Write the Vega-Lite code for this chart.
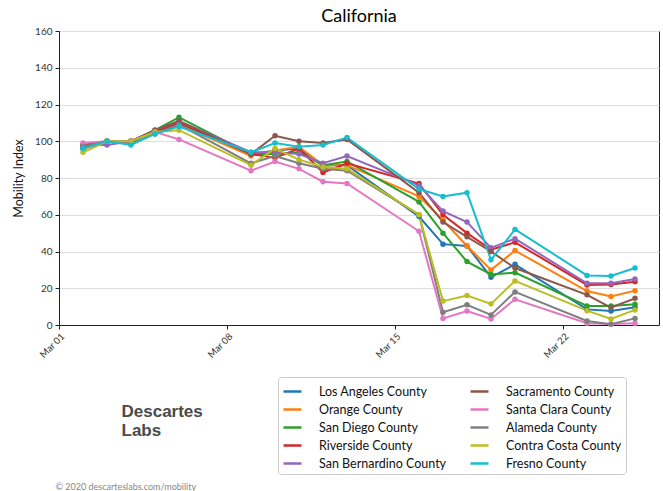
{
  "$schema": "https://vega.github.io/schema/vega-lite/v6.json",
  "width": 600,
  "height": 294,
  "autosize": {"type": "none"},
  "padding": {"left": 59, "top": 31, "right": 4, "bottom": 166},
  "title": {"text": "California", "fontSize": 18, "fontWeight": "normal", "font": "Lato", "color": "#000", "offset": 0},
  "config": {
    "view": {"stroke": "#222", "strokeWidth": 1},
    "axis": {"labelFont": "Lato", "titleFont": "Lato", "domainColor": "#222", "tickColor": "#222", "labelColor": "#333"}
  },
  "data": {"values": [
    {"date":"2020-03-02","county":"Los Angeles County","value":97},{"date":"2020-03-03","county":"Los Angeles County","value":100},{"date":"2020-03-04","county":"Los Angeles County","value":99},{"date":"2020-03-05","county":"Los Angeles County","value":105},{"date":"2020-03-06","county":"Los Angeles County","value":110},{"date":"2020-03-09","county":"Los Angeles County","value":93},{"date":"2020-03-10","county":"Los Angeles County","value":95},{"date":"2020-03-11","county":"Los Angeles County","value":96},{"date":"2020-03-12","county":"Los Angeles County","value":87},{"date":"2020-03-13","county":"Los Angeles County","value":87},{"date":"2020-03-16","county":"Los Angeles County","value":59},{"date":"2020-03-17","county":"Los Angeles County","value":44},{"date":"2020-03-18","county":"Los Angeles County","value":43},{"date":"2020-03-19","county":"Los Angeles County","value":26},{"date":"2020-03-20","county":"Los Angeles County","value":33},{"date":"2020-03-23","county":"Los Angeles County","value":8.5},{"date":"2020-03-24","county":"Los Angeles County","value":7.6},{"date":"2020-03-25","county":"Los Angeles County","value":9.6},
    {"date":"2020-03-02","county":"Orange County","value":96},{"date":"2020-03-03","county":"Orange County","value":100},{"date":"2020-03-04","county":"Orange County","value":100},{"date":"2020-03-05","county":"Orange County","value":105},{"date":"2020-03-06","county":"Orange County","value":109},{"date":"2020-03-09","county":"Orange County","value":92},{"date":"2020-03-10","county":"Orange County","value":95},{"date":"2020-03-11","county":"Orange County","value":97},{"date":"2020-03-12","county":"Orange County","value":87},{"date":"2020-03-13","county":"Orange County","value":87},{"date":"2020-03-16","county":"Orange County","value":70},{"date":"2020-03-17","county":"Orange County","value":57},{"date":"2020-03-18","county":"Orange County","value":43},{"date":"2020-03-19","county":"Orange County","value":30},{"date":"2020-03-20","county":"Orange County","value":40.5},{"date":"2020-03-23","county":"Orange County","value":18.5},{"date":"2020-03-24","county":"Orange County","value":15.5},{"date":"2020-03-25","county":"Orange County","value":18.7},
    {"date":"2020-03-02","county":"San Diego County","value":97},{"date":"2020-03-03","county":"San Diego County","value":100},{"date":"2020-03-04","county":"San Diego County","value":100},{"date":"2020-03-05","county":"San Diego County","value":106},{"date":"2020-03-06","county":"San Diego County","value":113},{"date":"2020-03-09","county":"San Diego County","value":93},{"date":"2020-03-10","county":"San Diego County","value":93},{"date":"2020-03-11","county":"San Diego County","value":94},{"date":"2020-03-12","county":"San Diego County","value":87},{"date":"2020-03-13","county":"San Diego County","value":89},{"date":"2020-03-16","county":"San Diego County","value":67},{"date":"2020-03-17","county":"San Diego County","value":50},{"date":"2020-03-18","county":"San Diego County","value":34.5},{"date":"2020-03-19","county":"San Diego County","value":27.5},{"date":"2020-03-20","county":"San Diego County","value":28.5},{"date":"2020-03-23","county":"San Diego County","value":10.4},{"date":"2020-03-24","county":"San Diego County","value":10.4},{"date":"2020-03-25","county":"San Diego County","value":11.3},
    {"date":"2020-03-02","county":"Riverside County","value":96},{"date":"2020-03-03","county":"Riverside County","value":100},{"date":"2020-03-04","county":"Riverside County","value":100},{"date":"2020-03-05","county":"Riverside County","value":105},{"date":"2020-03-06","county":"Riverside County","value":110},{"date":"2020-03-09","county":"Riverside County","value":93},{"date":"2020-03-10","county":"Riverside County","value":91},{"date":"2020-03-11","county":"Riverside County","value":96},{"date":"2020-03-12","county":"Riverside County","value":83},{"date":"2020-03-13","county":"Riverside County","value":88},{"date":"2020-03-16","county":"Riverside County","value":77},{"date":"2020-03-17","county":"Riverside County","value":60},{"date":"2020-03-18","county":"Riverside County","value":50},{"date":"2020-03-19","county":"Riverside County","value":41},{"date":"2020-03-20","county":"Riverside County","value":45},{"date":"2020-03-23","county":"Riverside County","value":21.8},{"date":"2020-03-24","county":"Riverside County","value":22},{"date":"2020-03-25","county":"Riverside County","value":23.6},
    {"date":"2020-03-02","county":"San Bernardino County","value":98},{"date":"2020-03-03","county":"San Bernardino County","value":98},{"date":"2020-03-04","county":"San Bernardino County","value":100},{"date":"2020-03-05","county":"San Bernardino County","value":106},{"date":"2020-03-06","county":"San Bernardino County","value":111},{"date":"2020-03-09","county":"San Bernardino County","value":94},{"date":"2020-03-10","county":"San Bernardino County","value":94},{"date":"2020-03-11","county":"San Bernardino County","value":93},{"date":"2020-03-12","county":"San Bernardino County","value":88},{"date":"2020-03-13","county":"San Bernardino County","value":92},{"date":"2020-03-16","county":"San Bernardino County","value":76},{"date":"2020-03-17","county":"San Bernardino County","value":62},{"date":"2020-03-18","county":"San Bernardino County","value":56},{"date":"2020-03-19","county":"San Bernardino County","value":42},{"date":"2020-03-20","county":"San Bernardino County","value":47},{"date":"2020-03-23","county":"San Bernardino County","value":22.7},{"date":"2020-03-24","county":"San Bernardino County","value":22.7},{"date":"2020-03-25","county":"San Bernardino County","value":25},
    {"date":"2020-03-02","county":"Sacramento County","value":98},{"date":"2020-03-03","county":"Sacramento County","value":100},{"date":"2020-03-04","county":"Sacramento County","value":100},{"date":"2020-03-05","county":"Sacramento County","value":106},{"date":"2020-03-06","county":"Sacramento County","value":111},{"date":"2020-03-09","county":"Sacramento County","value":93},{"date":"2020-03-10","county":"Sacramento County","value":103},{"date":"2020-03-11","county":"Sacramento County","value":100},{"date":"2020-03-12","county":"Sacramento County","value":99},{"date":"2020-03-13","county":"Sacramento County","value":101},{"date":"2020-03-16","county":"Sacramento County","value":72},{"date":"2020-03-17","county":"Sacramento County","value":56},{"date":"2020-03-18","county":"Sacramento County","value":48},{"date":"2020-03-19","county":"Sacramento County","value":40},{"date":"2020-03-20","county":"Sacramento County","value":31},{"date":"2020-03-23","county":"Sacramento County","value":16.4},{"date":"2020-03-24","county":"Sacramento County","value":9.5},{"date":"2020-03-25","county":"Sacramento County","value":14.5},
    {"date":"2020-03-02","county":"Santa Clara County","value":99},{"date":"2020-03-03","county":"Santa Clara County","value":100},{"date":"2020-03-04","county":"Santa Clara County","value":100},{"date":"2020-03-05","county":"Santa Clara County","value":105},{"date":"2020-03-06","county":"Santa Clara County","value":101},{"date":"2020-03-09","county":"Santa Clara County","value":84},{"date":"2020-03-10","county":"Santa Clara County","value":89},{"date":"2020-03-11","county":"Santa Clara County","value":85},{"date":"2020-03-12","county":"Santa Clara County","value":78},{"date":"2020-03-13","county":"Santa Clara County","value":77},{"date":"2020-03-16","county":"Santa Clara County","value":51},{"date":"2020-03-17","county":"Santa Clara County","value":3.6},{"date":"2020-03-18","county":"Santa Clara County","value":7.6},{"date":"2020-03-19","county":"Santa Clara County","value":3.3},{"date":"2020-03-20","county":"Santa Clara County","value":14},{"date":"2020-03-23","county":"Santa Clara County","value":1},{"date":"2020-03-24","county":"Santa Clara County","value":0.5},{"date":"2020-03-25","county":"Santa Clara County","value":1},
    {"date":"2020-03-02","county":"Alameda County","value":97},{"date":"2020-03-03","county":"Alameda County","value":100},{"date":"2020-03-04","county":"Alameda County","value":100},{"date":"2020-03-05","county":"Alameda County","value":104},{"date":"2020-03-06","county":"Alameda County","value":109},{"date":"2020-03-09","county":"Alameda County","value":88},{"date":"2020-03-10","county":"Alameda County","value":92},{"date":"2020-03-11","county":"Alameda County","value":88},{"date":"2020-03-12","county":"Alameda County","value":85},{"date":"2020-03-13","county":"Alameda County","value":84},{"date":"2020-03-16","county":"Alameda County","value":60},{"date":"2020-03-17","county":"Alameda County","value":7},{"date":"2020-03-18","county":"Alameda County","value":11},{"date":"2020-03-19","county":"Alameda County","value":5.5},{"date":"2020-03-20","county":"Alameda County","value":18},{"date":"2020-03-23","county":"Alameda County","value":2.2},{"date":"2020-03-24","county":"Alameda County","value":0.4},{"date":"2020-03-25","county":"Alameda County","value":3.6},
    {"date":"2020-03-02","county":"Contra Costa County","value":94},{"date":"2020-03-03","county":"Contra Costa County","value":100},{"date":"2020-03-04","county":"Contra Costa County","value":100},{"date":"2020-03-05","county":"Contra Costa County","value":105},{"date":"2020-03-06","county":"Contra Costa County","value":106},{"date":"2020-03-09","county":"Contra Costa County","value":87},{"date":"2020-03-10","county":"Contra Costa County","value":96},{"date":"2020-03-11","county":"Contra Costa County","value":90},{"date":"2020-03-12","county":"Contra Costa County","value":86},{"date":"2020-03-13","county":"Contra Costa County","value":85},{"date":"2020-03-16","county":"Contra Costa County","value":60},{"date":"2020-03-17","county":"Contra Costa County","value":13},{"date":"2020-03-18","county":"Contra Costa County","value":16},{"date":"2020-03-19","county":"Contra Costa County","value":11.5},{"date":"2020-03-20","county":"Contra Costa County","value":24},{"date":"2020-03-23","county":"Contra Costa County","value":7.8},{"date":"2020-03-24","county":"Contra Costa County","value":3.3},{"date":"2020-03-25","county":"Contra Costa County","value":8.2},
    {"date":"2020-03-02","county":"Fresno County","value":96},{"date":"2020-03-03","county":"Fresno County","value":100},{"date":"2020-03-04","county":"Fresno County","value":98},{"date":"2020-03-05","county":"Fresno County","value":104},{"date":"2020-03-06","county":"Fresno County","value":108},{"date":"2020-03-09","county":"Fresno County","value":94},{"date":"2020-03-10","county":"Fresno County","value":99},{"date":"2020-03-11","county":"Fresno County","value":97},{"date":"2020-03-12","county":"Fresno County","value":98},{"date":"2020-03-13","county":"Fresno County","value":102},{"date":"2020-03-16","county":"Fresno County","value":74},{"date":"2020-03-17","county":"Fresno County","value":70},{"date":"2020-03-18","county":"Fresno County","value":72},{"date":"2020-03-19","county":"Fresno County","value":35.5},{"date":"2020-03-20","county":"Fresno County","value":52},{"date":"2020-03-23","county":"Fresno County","value":27},{"date":"2020-03-24","county":"Fresno County","value":26.7},{"date":"2020-03-25","county":"Fresno County","value":31}
  ]},
  "encoding": {
    "y": {"field": "value", "type": "quantitative",
      "scale": {"domain": [0, 160], "nice": false},
      "axis": {"title": "Mobility Index", "values": [0,20,40,60,80,100,120,140,160], "tickSize": 4, "labelFontSize": 10, "titleFontSize": 12.5, "titleFontWeight": "normal", "titleColor": "#111", "gridColor": "#dddddd", "titlePadding": 9, "labelPadding": 3}},
    "color": {"field": "county", "type": "nominal",
      "scale": {"domain": ["Los Angeles County","Orange County","San Diego County","Riverside County","San Bernardino County","Sacramento County","Santa Clara County","Alameda County","Contra Costa County","Fresno County"],
        "range": ["#1f77b4","#ff7f0e","#2ca02c","#d62728","#9467bd","#8c564b","#e377c2","#7f7f7f","#bcbd22","#17becf"]},
      "legend": {"orient": "none", "legendX": 219, "legendY": 346, "columns": 2, "title": null,
        "symbolType": "stroke", "symbolSize": 324, "symbolStrokeWidth": 2.5, "labelFont": "Lato", "labelFontSize": 12.5, "labelColor": "#111",
        "rowPadding": 1, "columnPadding": 18, "padding": 4, "strokeColor": "#cccccc", "fillColor": "#ffffff", "cornerRadius": 3, "labelLimit": 300, "labelOffset": 16}}
  },
  "layer": [
    {"mark": {"type": "line", "strokeWidth": 2},
      "encoding": {"x": {"field": "date", "type": "temporal",
        "scale": {"type": "utc", "domain": [1583020800000, 1585180800000]},
        "axis": {"orient": "bottom", "values": [1583020800000, 1583625600000, 1584230400000, 1584835200000], "labelExpr": "utcFormat(datum.value, '%b %d')", "grid": false, "labelAngle": -45, "labelAlign": "right", "labelBaseline": "top", "labelFontSize": 9.5, "tickSize": 4,
          "title": ["Descartes", "Labs"], "titleX": 62, "titleY": 78, "titleAlign": "left", "titleBaseline": "top", "titleAnchor": "start", "titleFont": "Liberation Sans", "titleFontSize": 17, "titleFontWeight": "bold", "titleColor": "#4a4a4a", "titleLineHeight": 19}}}},
    {"mark": {"type": "point", "filled": true, "size": 30, "opacity": 1},
      "encoding": {"x": {"field": "date", "type": "temporal",
        "scale": {"type": "utc", "domain": [1583020800000, 1585180800000]},
        "axis": {"orient": "bottom", "labels": false, "ticks": false, "domain": false, "grid": false,
          "title": "© 2020 descarteslabs.com/mobility", "titleX": -4, "titleY": 161, "titleAlign": "left", "titleBaseline": "middle", "titleAnchor": "start", "titleFont": "Lato", "titleFontSize": 9, "titleFontWeight": "normal", "titleColor": "#888888"}}}}
  ],
  "resolve": {"axis": {"x": "independent"}}
}
